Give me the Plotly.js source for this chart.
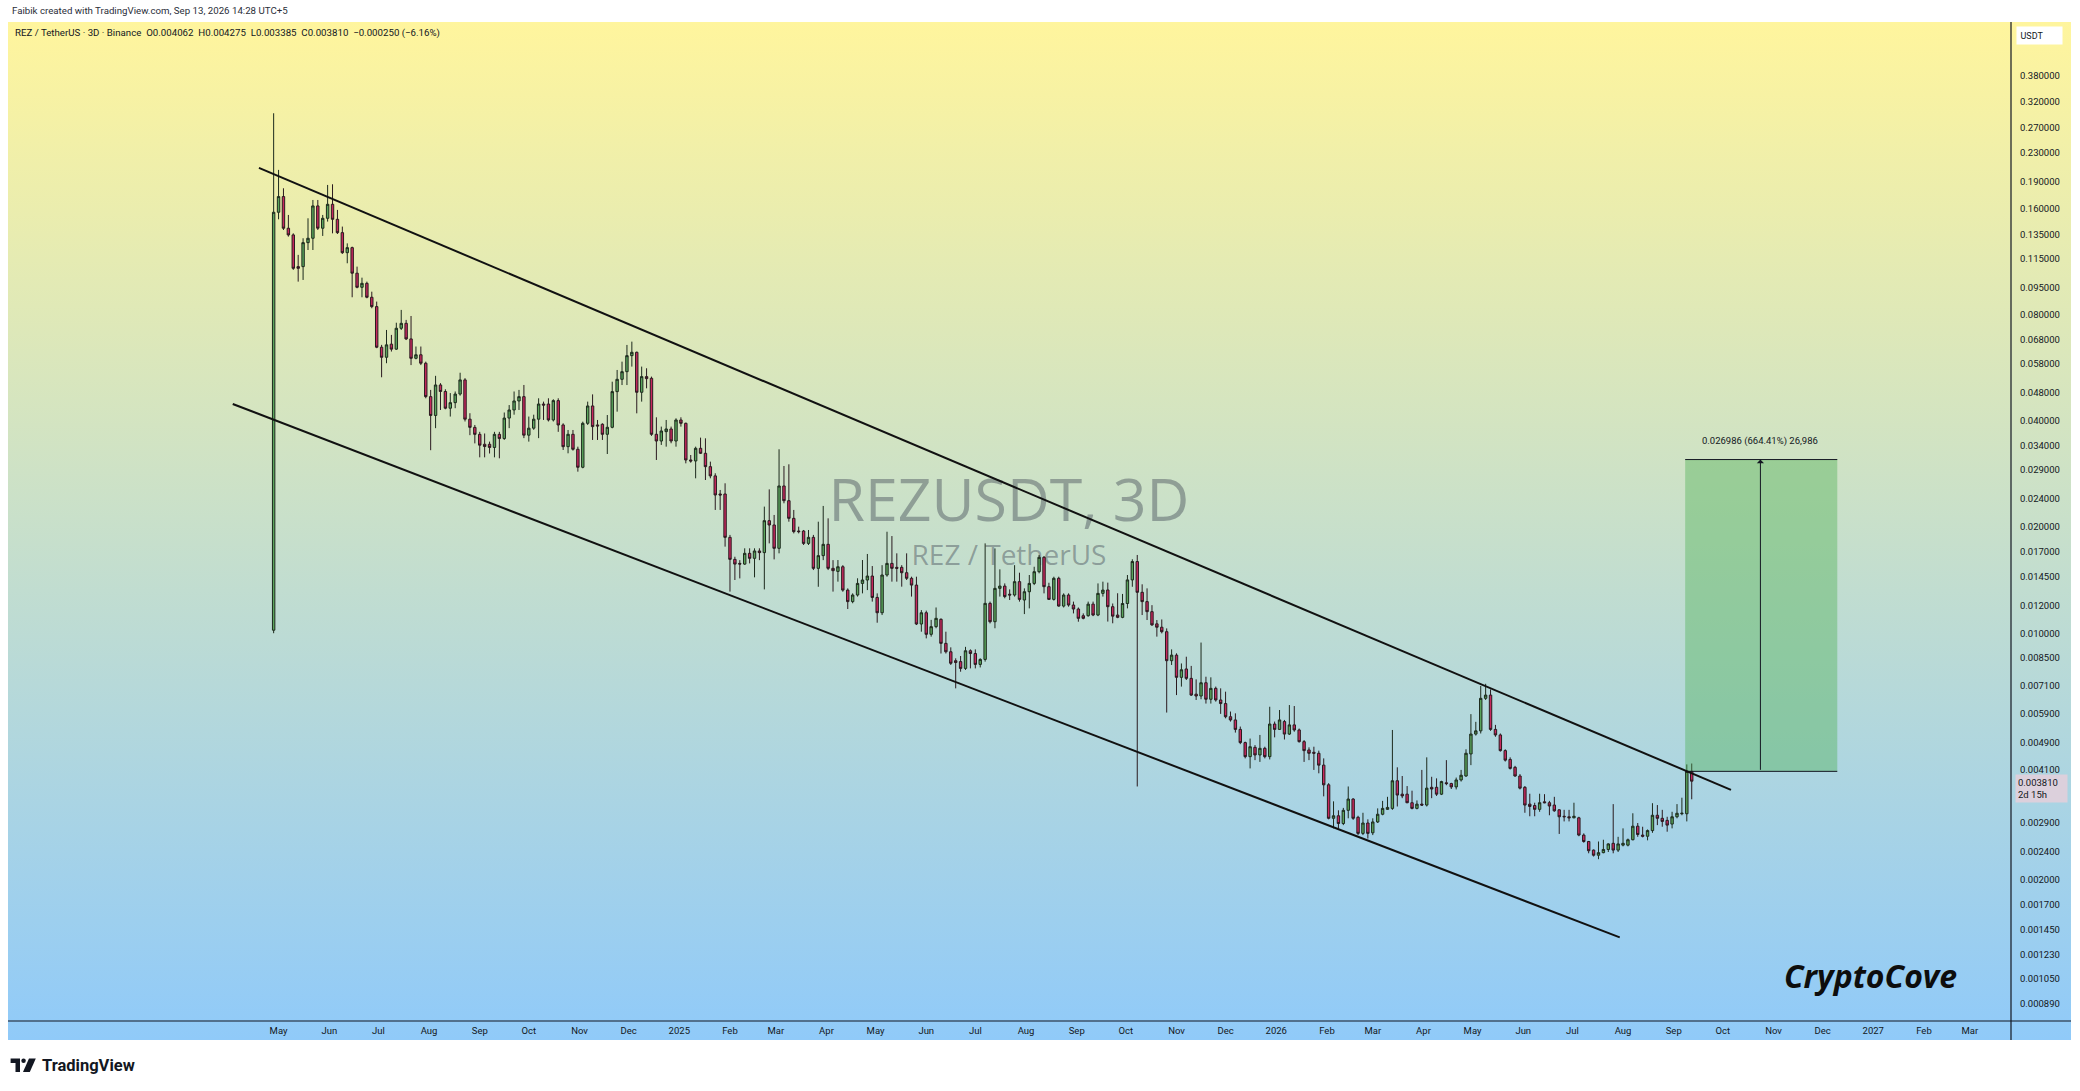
<!DOCTYPE html>
<html>
<head>
<meta charset="utf-8">
<script src="https://cdn.plot.ly/plotly-3.0.1.min.js"></script>
<style>
  html,body{margin:0;padding:0;background:#ffffff;width:2080px;height:1091px;overflow:hidden;}
  #bg{position:absolute;left:8px;top:22px;width:2063px;height:1018px;background:linear-gradient(to bottom,#fff59d 0%,#90caf9 100%);}
  .wm{position:absolute;left:1001px;transform:translate(-50%,-50%);white-space:nowrap;line-height:1;font-family:"Open Sans",sans-serif;color:rgba(60,66,80,0.42);}
  #chart{position:absolute;left:0;top:0;width:2080px;height:1091px;}
</style>
</head>
<body>
<div id="bg">
  <div class="wm" id="wm1" style="top:476px;font-size:59px;"></div>
  <div class="wm" id="wm2" style="top:532px;font-size:28px;"></div>
</div>
<div id="chart"></div>
<script>
// ---- Data (3D candles, REZ/USDT Binance) ----
const symbol = "REZUSDT";
const timeframe = "3D";
const pairName = "REZ / TetherUS";
const firstCandleDate = "2024-04-28";
const candleStepDays = 3;

const opens = [0.0102,0.1558,0.1726,0.1404,0.1344,0.1093,0.1093,0.1278,0.1315,0.1624,0.1404,0.1498,0.1641,0.1488,0.1364,0.1197,0.1237,0.1047,0.0955,0.0980,0.0895,0.0842,0.0646,0.0605,0.0659,0.0638,0.0731,0.0755,0.0682,0.0601,0.0615,0.0582,0.0468,0.0414,0.0505,0.0484,0.0434,0.0450,0.0476,0.0522,0.0404,0.0383,0.0366,0.0343,0.0343,0.0336,0.0366,0.0356,0.0407,0.0429,0.0455,0.0468,0.0364,0.0381,0.0404,0.0446,0.0446,0.0402,0.0456,
0.03891,0.03377,0.03661,0.03320,0.02952,0.03933,0.04404,0.03891,0.03908,0.03661,0.03832,0.04836,0.05240,0.05508,0.06115,0.06250,0.04815,0.05333,0.05275,0.03661,0.03504,0.03725,0.03790,0.03504,0.04019,0.03933,0.03096,0.03076,0.03341,0.03234,0.02964,0.02791,0.02480,0.02480,0.01869,0.01619,0.01577,0.01570,0.01684,0.01630,0.01710,0.01692,0.02084,0.02026,0.01740,0.02613,0.02374,0.02116,0.01948,0.01948,0.01797,0.01869,0.01527,0.01659,0.01786,0.01527,
0.01497,0.01543,0.01325,0.01229,0.01283,0.01384,0.01415,0.01452,0.01263,0.01143,0.01462,0.01577,0.01537,0.01537,0.01484,0.01431,0.01369,0.01062,0.01143,0.00993,0.01044,0.01095,0.00936,0.00886,0.00836,0.00831,0.00795,0.00892,0.00876,0.00816,0.00843,0.01215,0.01078,0.01340,0.01360,0.01290,0.01283,0.01400,0.01242,0.01311,0.01384,0.01494,0.01641,0.01355,0.01247,0.01431,0.01194,0.01283,0.01202,0.01171,0.01121,0.01121,0.01209,0.01126,0.01297,
0.01326,0.01189,0.01126,0.01109,0.01214,0.01416,0.01596,0.01306,0.01229,0.01151,0.01063,0.01040,0.01010,0.00836,0.00867,0.00750,0.00792,0.00745,0.00672,0.00664,0.00724,0.00650,0.00698,0.00647,0.00632,0.00580,0.00568,0.00534,0.00490,0.00447,0.00475,0.00452,0.00472,0.00447,0.00553,0.00534,0.00562,0.00518,0.00550,0.00532,0.00493,0.00467,0.00460,0.00457,0.00423,0.00372,0.00299,0.00304,0.00289,0.00315,0.00339,0.00301,0.00271,0.00290,0.00272,
0.00292,0.00307,0.00317,0.00319,0.00382,0.00350,0.00350,0.00331,0.00319,0.00328,0.00326,0.00366,0.00366,0.00350,0.00377,0.00375,0.00367,0.00384,0.00394,0.00455,0.00518,0.00529,0.00654,0.00668,0.00534,0.00515,0.00465,0.00439,0.00417,0.00394,0.00366,0.00328,0.00325,0.00317,0.00333,0.00331,0.00326,0.00316,0.00303,0.00302,0.00300,0.00300,0.00268,0.00257,0.00243,0.00235,0.00239,0.00244,0.00254,0.00243,0.00251,0.00251,0.00260,0.00284,0.00268,0.00266,0.00276,0.00305,0.00299,0.00295,0.00288,0.00302,0.00308,0.00308,0.004062];

const highs = [0.2972,0.2054,0.1822,0.1531,0.1358,0.1180,0.1315,0.1498,0.1688,0.1688,0.1531,0.1862,0.1870,0.1582,0.1419,0.1272,0.1245,0.1093,0.1017,0.0991,0.0928,0.0870,0.0656,0.0723,0.0700,0.0758,0.0824,0.0772,0.0792,0.0649,0.0649,0.0588,0.0489,0.0536,0.0511,0.0491,0.0479,0.0484,0.0547,0.0528,0.0420,0.0389,0.0372,0.0368,0.0349,0.0372,0.0372,0.0422,0.0443,0.0484,0.0489,0.0505,0.0411,0.0416,0.0463,0.0453,0.0463,0.0460,0.0463,
0.03933,0.03765,0.03765,0.03377,0.03975,0.04530,0.04750,0.04019,0.03933,0.04151,0.05159,0.05569,0.05880,0.06557,0.06700,0.06278,0.05693,0.05631,0.05333,0.04090,0.03849,0.04019,0.03849,0.04063,0.04090,0.03950,0.03198,0.03377,0.03582,0.03566,0.03063,0.02839,0.02546,0.02659,0.01899,0.01647,0.01611,0.01740,0.01740,0.01740,0.01740,0.02284,0.02556,0.02163,0.03320,0.02977,0.03010,0.02235,0.02004,0.01961,0.01961,0.01899,0.02070,0.02294,0.02116,0.01611,
0.01612,0.01559,0.01340,0.01297,0.01431,0.01612,0.01677,0.01550,0.01297,0.01559,0.01939,0.01885,0.01684,0.01559,0.01684,0.01446,0.01446,0.01163,0.01159,0.01091,0.01183,0.01102,0.01010,0.00912,0.00849,0.00862,0.00915,0.00900,0.00900,0.00849,0.01797,0.01229,0.01739,0.01517,0.01384,0.01331,0.01559,0.01484,0.01340,0.01462,0.01543,0.01666,0.01655,0.01390,0.01446,0.01446,0.01297,0.01297,0.01229,0.01183,0.01138,0.01229,0.01229,0.01384,0.01400,
0.01391,0.01214,0.01298,0.01292,0.01462,0.01620,0.01666,0.01376,0.01340,0.01201,0.01090,0.01094,0.01032,0.00900,0.00877,0.00821,0.00858,0.00808,0.00740,0.00941,0.00753,0.00750,0.00706,0.00698,0.00683,0.00600,0.00593,0.00544,0.00493,0.00503,0.00482,0.00515,0.00477,0.00619,0.00562,0.00606,0.00568,0.00626,0.00622,0.00537,0.00498,0.00475,0.00477,0.00465,0.00442,0.00376,0.00334,0.00315,0.00320,0.00368,0.00341,0.00304,0.00310,0.00297,0.00299,
0.00319,0.00335,0.00344,0.00532,0.00417,0.00394,0.00369,0.00358,0.00336,0.00410,0.00445,0.00392,0.00388,0.00382,0.00437,0.00377,0.00390,0.00410,0.00469,0.00590,0.00561,0.00709,0.00719,0.00693,0.00550,0.00520,0.00469,0.00445,0.00421,0.00399,0.00369,0.00351,0.00331,0.00351,0.00350,0.00335,0.00344,0.00317,0.00316,0.00316,0.00331,0.00302,0.00271,0.00258,0.00244,0.00257,0.00260,0.00254,0.00328,0.00265,0.00280,0.00262,0.00309,0.00290,0.00283,0.00278,0.00330,0.00326,0.00316,0.00302,0.00312,0.00328,0.00342,0.00425,0.004275];

const lows = [0.0100,0.1488,0.1388,0.1329,0.1070,0.0991,0.1002,0.1218,0.1218,0.1388,0.1335,0.1466,0.1358,0.1352,0.1187,0.1117,0.0895,0.0949,0.0895,0.0889,0.0833,0.0642,0.0531,0.0582,0.0628,0.0635,0.0723,0.0677,0.0575,0.0597,0.0575,0.0463,0.0330,0.0381,0.0429,0.0431,0.0411,0.0434,0.0471,0.0398,0.0364,0.0345,0.0315,0.0315,0.0323,0.0315,0.0313,0.0353,0.0381,0.0416,0.0429,0.0357,0.0349,0.0377,0.0357,0.0402,0.0398,0.0398,0.0372,
0.03305,0.03234,0.03291,0.02869,0.02933,0.03891,0.03528,0.03528,0.03528,0.03219,0.03807,0.04243,0.05048,0.05048,0.05693,0.04197,0.04530,0.04941,0.03623,0.03096,0.03415,0.03377,0.03453,0.03377,0.03849,0.03029,0.03042,0.02747,0.03219,0.02717,0.02747,0.02235,0.02235,0.01759,0.01312,0.01415,0.01430,0.01561,0.01577,0.01440,0.01611,0.01331,0.01797,0.01619,0.01684,0.02334,0.02070,0.01918,0.01918,0.01778,0.01778,0.01510,0.01354,0.01611,0.01510,0.01312,
0.01400,0.01311,0.01171,0.01216,0.01270,0.01297,0.01325,0.01229,0.01071,0.01126,0.01446,0.01400,0.01400,0.01355,0.01415,0.01270,0.01055,0.01010,0.00967,0.00978,0.01033,0.00876,0.00876,0.00813,0.00698,0.00778,0.00787,0.00795,0.00795,0.00800,0.00831,0.01066,0.01033,0.01270,0.01256,0.01242,0.01270,0.01229,0.01133,0.01176,0.01369,0.01478,0.01297,0.01242,0.01237,0.01189,0.01183,0.01189,0.01138,0.01078,0.01095,0.01114,0.01118,0.01118,0.01270,
0.01079,0.01067,0.01103,0.01103,0.01176,0.01354,0.00368,0.01126,0.01090,0.01049,0.00978,0.00999,0.00596,0.00813,0.00668,0.00706,0.00737,0.00664,0.00647,0.00650,0.00632,0.00632,0.00640,0.00591,0.00574,0.00562,0.00523,0.00485,0.00442,0.00414,0.00437,0.00432,0.00442,0.00439,0.00507,0.00532,0.00500,0.00515,0.00526,0.00490,0.00432,0.00437,0.00410,0.00401,0.00345,0.00297,0.00280,0.00280,0.00286,0.00299,0.00296,0.00268,0.00268,0.00262,0.00268,
0.00290,0.00305,0.00316,0.00316,0.00323,0.00341,0.00330,0.00317,0.00317,0.00324,0.00323,0.00341,0.00346,0.00348,0.00371,0.00362,0.00361,0.00380,0.00392,0.00423,0.00513,0.00520,0.00647,0.00529,0.00509,0.00462,0.00433,0.00411,0.00392,0.00361,0.00310,0.00303,0.00303,0.00312,0.00330,0.00305,0.00312,0.00270,0.00293,0.00293,0.00299,0.00266,0.00255,0.00238,0.00233,0.00229,0.00238,0.00240,0.00238,0.00240,0.00249,0.00249,0.00259,0.00265,0.00264,0.00259,0.00272,0.00286,0.00283,0.00274,0.00280,0.00299,0.00305,0.00293,0.003385];

const closes = [0.1558,0.1726,0.1404,0.1344,0.1081,0.1081,0.1278,0.1315,0.1624,0.1404,0.1498,0.1641,0.1488,0.1364,0.1197,0.1237,0.1047,0.0955,0.0980,0.0895,0.0842,0.0646,0.0605,0.0656,0.0638,0.0731,0.0755,0.0682,0.0601,0.0615,0.0582,0.0468,0.0414,0.0505,0.0484,0.0434,0.0450,0.0476,0.0522,0.0404,0.0383,0.0366,0.0341,0.0338,0.0336,0.0366,0.0356,0.0407,0.0429,0.0455,0.0468,0.0364,0.0381,0.0404,0.0446,0.0443,0.0402,0.0456,0.0389,
0.03377,0.03661,0.03320,0.02952,0.03933,0.04404,0.03849,0.03866,0.03661,0.03832,0.04836,0.05240,0.05508,0.06115,0.06250,0.04815,0.05333,0.05263,0.03661,0.03504,0.03741,0.03790,0.03504,0.04019,0.03933,0.03096,0.03076,0.03341,0.03234,0.02964,0.02791,0.02464,0.02464,0.01869,0.01619,0.01570,0.01570,0.01684,0.01630,0.01710,0.01692,0.02084,0.02026,0.01740,0.02613,0.02374,0.02116,0.01940,0.01940,0.01797,0.01869,0.01527,0.01659,0.01786,0.01527,0.01504,
0.01543,0.01325,0.01229,0.01283,0.01384,0.01415,0.01452,0.01263,0.01143,0.01462,0.01577,0.01527,0.01527,0.01484,0.01431,0.01369,0.01062,0.01143,0.00993,0.01044,0.01102,0.00936,0.00886,0.00822,0.00826,0.00795,0.00892,0.00876,0.00816,0.00843,0.01215,0.01078,0.01340,0.01360,0.01270,0.01283,0.01400,0.01247,0.01311,0.01384,0.01494,0.01641,0.01355,0.01247,0.01431,0.01194,0.01283,0.01202,0.01171,0.01102,0.01102,0.01209,0.01126,0.01297,0.01325,
0.01189,0.01118,0.01109,0.01214,0.01416,0.01596,0.01306,0.01229,0.01151,0.01056,0.01040,0.01010,0.00836,0.00867,0.00750,0.00788,0.00745,0.00668,0.00664,0.00724,0.00650,0.00698,0.00647,0.00632,0.00580,0.00568,0.00534,0.00490,0.00447,0.00477,0.00452,0.00472,0.00447,0.00553,0.00534,0.00568,0.00518,0.00550,0.00532,0.00493,0.00465,0.00457,0.00457,0.00423,0.00372,0.00299,0.00304,0.00289,0.00315,0.00339,0.00299,0.00271,0.00290,0.00271,0.00292,
0.00307,0.00319,0.00321,0.00382,0.00348,0.00346,0.00331,0.00319,0.00328,0.00326,0.00364,0.00362,0.00350,0.00380,0.00375,0.00367,0.00384,0.00396,0.00457,0.00518,0.00529,0.00654,0.00668,0.00534,0.00515,0.00465,0.00437,0.00414,0.00394,0.00364,0.00326,0.00323,0.00317,0.00331,0.00331,0.00324,0.00314,0.00302,0.00302,0.00300,0.00303,0.00268,0.00257,0.00242,0.00235,0.00239,0.00244,0.00253,0.00243,0.00253,0.00254,0.00260,0.00284,0.00269,0.00266,0.00276,0.00305,0.00299,0.00293,0.00286,0.00302,0.00309,0.00309,0.00406,0.003810];

// Descending channel drawn on the chart (two anchor points each)
const upperChannelDates = ["2024-04-19", "2026-10-06"];
const upperChannelPrices = [0.2081, 0.0036];
const lowerChannelDates = ["2024-04-03", "2026-07-30"];
const lowerChannelPrices = [0.04461, 0.001375];

// Price-range measurement
const rangeStartDate = "2026-09-08";
const rangeEndDate = "2026-12-10";
const rangeArrowDate = "2026-10-24";
const rangeBase = 0.0040617;
const rangeTop = 0.031048;
const rangeLabel = "0.026986 (664.41%) 26,986";

// Axis ticks
const priceTicks = [0.38,0.32,0.27,0.23,0.19,0.16,0.135,0.115,0.095,0.08,0.068,0.058,0.048,0.04,0.034,0.029,0.024,0.02,0.017,0.0145,0.012,0.01,0.0085,0.0071,0.0059,0.0049,0.0041,0.0029,0.0024,0.002,0.0017,0.00145,0.00123,0.00105,0.00089];
const monthTicks = ["2024-05-01","2024-06-01","2024-07-01","2024-08-01","2024-09-01","2024-10-01","2024-11-01","2024-12-01","2025-01-01","2025-02-01","2025-03-01","2025-04-01","2025-05-01","2025-06-01","2025-07-01","2025-08-01","2025-09-01","2025-10-01","2025-11-01","2025-12-01","2026-01-01","2026-02-01","2026-03-01","2026-04-01","2026-05-01","2026-06-01","2026-07-01","2026-08-01","2026-09-01","2026-10-01","2026-11-01","2026-12-01","2027-01-01","2027-02-01","2027-03-01"];
const monthLabels = ["May","Jun","Jul","Aug","Sep","Oct","Nov","Dec","2025","Feb","Mar","Apr","May","Jun","Jul","Aug","Sep","Oct","Nov","Dec","2026","Feb","Mar","Apr","May","Jun","Jul","Aug","Sep","Oct","Nov","Dec","2027","Feb","Mar"];

const countdown = "2d 15h";
const creditLine = "Faibik created with TradingView.com, Sep 13, 2026 14:28 UTC+5";
const brand = "CryptoCove";

// ---- Build ----
const start = new Date(firstCandleDate + "T00:00:00Z").getTime();
const dates = opens.map((_, i) => new Date(start + i * candleStepDays * 86400000).toISOString().slice(0, 10));

document.getElementById("wm1").textContent = symbol + ", " + timeframe;
document.getElementById("wm2").textContent = pairName;

const n = closes.length;
const lastO = opens[n-1], lastH = highs[n-1], lastL = lows[n-1], lastC = closes[n-1];
const chg = lastC - closes[n-2];
const chgPct = chg / closes[n-2] * 100;
const fmt6 = v => v.toFixed(6);
const minus = s => s.replace("-", "\u2212");
const headerLine = pairName + " \u00b7 " + timeframe + " \u00b7 Binance  O" + fmt6(lastO) + "  H" + fmt6(lastH) + "  L" + fmt6(lastL) + "  C" + fmt6(lastC) + "  " + minus(chg.toFixed(6)) + " (" + minus(chgPct.toFixed(2)) + "%)";

const PL = 8, PR = 2011, PT = 22, PB = 1021;
const X = px => (px - PL) / (PR - PL);
const Y = py => (PB - py) / (PB - PT);
const ink = "#131722";
const smallFont = {family: "Roboto, 'Open Sans', sans-serif", size: 9.5, color: ink};

const traces = [
  {
    type: "candlestick", x: dates, open: opens, high: highs, low: lows, close: closes,
    increasing: {line: {color: "#1d2a1d", width: 1}, fillcolor: "#5aa55c"},
    decreasing: {line: {color: "#2a1a1f", width: 1}, fillcolor: "#c8285e"},
    whiskerwidth: 0, hoverinfo: "skip"
  },
  {type: "scatter", mode: "lines", x: [rangeStartDate, rangeEndDate, rangeEndDate, rangeStartDate, rangeStartDate],
   y: [rangeBase, rangeBase, rangeTop, rangeTop, rangeBase], fill: "toself",
   fillcolor: "rgba(76,175,80,0.40)", line: {width: 0}, hoverinfo: "skip"},
  {type: "scatter", mode: "lines", x: [rangeStartDate, rangeEndDate], y: [rangeTop, rangeTop],
   line: {color: ink, width: 1}, hoverinfo: "skip"},
  {type: "scatter", mode: "lines", x: [rangeStartDate, rangeEndDate], y: [rangeBase, rangeBase],
   line: {color: ink, width: 1}, hoverinfo: "skip"},
  {type: "scatter", mode: "lines", x: upperChannelDates, y: upperChannelPrices,
   line: {color: "#111111", width: 2}, hoverinfo: "skip"},
  {type: "scatter", mode: "lines", x: lowerChannelDates, y: lowerChannelPrices,
   line: {color: "#111111", width: 2}, hoverinfo: "skip"}
];

const logoShapes = [
  {type: "path", xref: "paper", yref: "paper", fillcolor: "#131722", line: {width: 0},
   path: `M ${X(10.6)},${Y(1058.5)} L ${X(20)},${Y(1058.5)} L ${X(20)},${Y(1072)} L ${X(15.5)},${Y(1072)} L ${X(15.5)},${Y(1063)} L ${X(10.6)},${Y(1063)} Z`},
  {type: "circle", xref: "paper", yref: "paper", fillcolor: "#131722", line: {width: 0},
   x0: X(21.3), x1: X(25.8), y0: Y(1058.5), y1: Y(1063)},
  {type: "path", xref: "paper", yref: "paper", fillcolor: "#131722", line: {width: 0},
   path: `M ${X(29)},${Y(1058.5)} L ${X(35.8)},${Y(1058.5)} L ${X(29.8)},${Y(1072)} L ${X(23)},${Y(1072)} Z`}
];

const layout = {
  width: 2080, height: 1091,
  margin: {l: PL, r: 2080 - PR, t: PT, b: 1091 - PB, pad: 0},
  paper_bgcolor: "rgba(0,0,0,0)", plot_bgcolor: "rgba(0,0,0,0)",
  showlegend: false, hovermode: false,
  xaxis: {
    type: "date", range: ["2023-11-17 14:00", "2027-03-26 05:00"],
    rangeslider: {visible: false}, showgrid: false, zeroline: false, showline: false,
    tickmode: "array", tickvals: monthTicks, ticktext: monthLabels, ticks: "",
    tickfont: smallFont, ticklabelstandoff: 2, fixedrange: true
  },
  yaxis: {
    type: "log", side: "right", range: [Math.log10(0.000797), Math.log10(0.539)],
    showgrid: false, zeroline: false, showline: false,
    tickmode: "array", tickvals: priceTicks, ticktext: priceTicks.map(fmt6), ticks: "",
    tickfont: smallFont, ticklabelstandoff: 8, fixedrange: true
  },
  shapes: [
    {type: "line", xref: "paper", yref: "paper", x0: 0, x1: X(2071), y0: 0, y1: 0, line: {color: ink, width: 1.2}},
    {type: "line", xref: "paper", yref: "paper", x0: 1, x1: 1, y0: 1, y1: Y(1040), line: {color: ink, width: 1.2}},
    ...logoShapes
  ],
  annotations: [
    {xref: "paper", yref: "paper", x: X(10), y: Y(11), xanchor: "left", yanchor: "middle", showarrow: false,
     text: creditLine, font: {family: smallFont.family, size: 9.7, color: "#2a2e39"}},
    {xref: "paper", yref: "paper", x: X(13), y: Y(33), xanchor: "left", yanchor: "middle", showarrow: false,
     text: headerLine.replace(/  /g, "&nbsp; "), font: {family: smallFont.family, size: 9.7, color: ink}},
    {xref: "x", yref: "y", x: rangeArrowDate, y: Math.log10(rangeTop), xanchor: "center", yanchor: "bottom",
     yshift: 11, showarrow: false, text: rangeLabel, font: smallFont},
    {xref: "x", yref: "y", x: rangeArrowDate, y: Math.log10(rangeTop), axref: "x", ayref: "y",
     ax: rangeArrowDate, ay: Math.log10(rangeBase), showarrow: true, arrowhead: 1, arrowsize: 1.2,
     arrowwidth: 1, arrowcolor: ink, standoff: 0, startstandoff: 0, text: ""},
    {xref: "paper", yref: "paper", x: X(1870), y: Y(975), xanchor: "center", yanchor: "middle", showarrow: false,
     text: "<b><i>" + brand + "</i></b>", font: {family: "'Open Sans', sans-serif", size: 32, color: "#0d0d0d"}},
    {xref: "paper", yref: "paper", x: X(2016), y: Y(35.5), xanchor: "left", yanchor: "middle", showarrow: false,
     text: "USDT&nbsp;&nbsp;&nbsp;&nbsp;&nbsp;&nbsp;&nbsp;", bgcolor: "#ffffff", borderpad: 3.5,
     font: {family: smallFont.family, size: 9, color: ink}},
    {xref: "paper", yref: "paper", x: X(2015), y: Y(788.5), xanchor: "left", yanchor: "middle", showarrow: false,
     text: fmt6(lastC) + "&nbsp;&nbsp;&nbsp;<br>" + countdown, align: "left", bgcolor: "#dcd0dc", borderpad: 2,
     font: {family: smallFont.family, size: 9.5, color: ink}},
    {xref: "paper", yref: "paper", x: X(40), y: Y(1065), xanchor: "left", yanchor: "middle", showarrow: false,
     text: "<b>TradingView</b>", font: {family: "Roboto, sans-serif", size: 16.5, color: ink}}
  ]
};

Plotly.newPlot("chart", traces, layout, {displayModeBar: false, staticPlot: true});
</script>
</body>
</html>
